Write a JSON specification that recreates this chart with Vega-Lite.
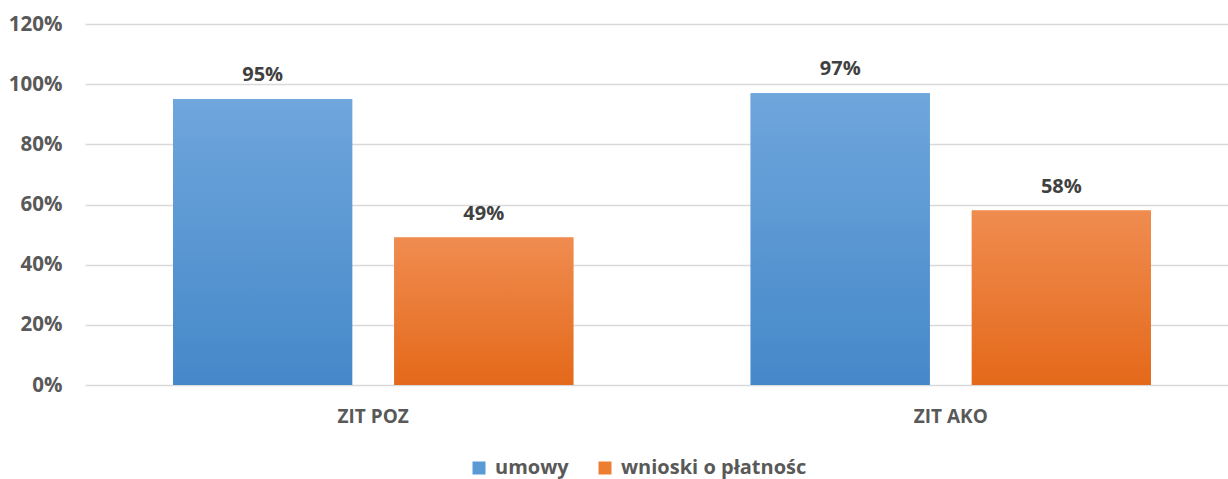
{
  "$schema": "https://vega.github.io/schema/vega-lite/v6.json",
  "autosize": {"type": "none"},
  "padding": {"left": 85, "top": 24, "right": 0, "bottom": 94},
  "width": 1154,
  "height": 361,
  "background": "white",
  "config": {
    "view": {"stroke": null},
    "font": "Open Sans"
  },
  "data": {
    "values": [
      {"grupa": "ZIT POZ", "seria": "umowy", "wartosc": 0.95},
      {"grupa": "ZIT POZ", "seria": "wnioski o płatnośc", "wartosc": 0.49},
      {"grupa": "ZIT AKO", "seria": "umowy", "wartosc": 0.97},
      {"grupa": "ZIT AKO", "seria": "wnioski o płatnośc", "wartosc": 0.58}
    ]
  },
  "encoding": {
    "x": {
      "field": "grupa",
      "type": "nominal",
      "sort": ["ZIT POZ", "ZIT AKO"],
      "scale": {"paddingInner": 0.307, "paddingOuter": 0.1525},
      "axis": {
        "title": null,
        "domain": false,
        "ticks": false,
        "labelAngle": 0,
        "labelFont": "Open Sans",
        "labelFontWeight": "bold",
        "labelFontSize": 19,
        "labelColor": "#595959",
        "labelPadding": 22
      }
    },
    "xOffset": {
      "field": "seria",
      "type": "nominal",
      "sort": ["umowy", "wnioski o płatnośc"],
      "scale": {"paddingInner": 0.19, "paddingOuter": 0}
    },
    "y": {
      "field": "wartosc",
      "type": "quantitative",
      "scale": {"domain": [0, 1.2], "nice": false},
      "axis": {
        "title": null,
        "format": ".0%",
        "values": [0, 0.2, 0.4, 0.6, 0.8, 1.0, 1.2],
        "domain": false,
        "ticks": false,
        "grid": true,
        "gridColor": "#d9d9d9",
        "gridWidth": 1.5,
        "labelFont": "Open Sans",
        "labelFontWeight": "bold",
        "labelFontSize": 20.5,
        "labelColor": "#595959",
        "labelPadding": 23
      }
    }
  },
  "layer": [
    {
      "mark": {"type": "bar"},
      "encoding": {
        "color": {
          "field": "seria",
          "type": "nominal",
          "sort": ["umowy", "wnioski o płatnośc"],
          "scale": {"domain": ["umowy", "wnioski o płatnośc"], "range": ["#5b9bd5", "#ed7d31"]},
          "legend": {
            "title": null,
            "orient": "none",
            "direction": "horizontal",
            "legendX": 384,
            "legendY": 434,
            "symbolType": "square",
            "symbolSize": 169,
            "symbolStrokeWidth": 0,
            "labelFont": "Open Sans",
            "labelFontWeight": "bold",
            "labelFontSize": 20,
            "labelColor": "#595959",
            "labelOffset": 6,
            "labelLimit": 500,
            "columnPadding": 26
          }
        }
      }
    },
    {
      "mark": {"type": "bar"},
      "encoding": {
        "fill": {
          "condition": {
            "test": "datum.seria === 'umowy'",
            "value": {
              "gradient": "linear",
              "x1": 0, "y1": 0, "x2": 0, "y2": 1,
              "stops": [
                {"offset": 0, "color": "#6fa6dc"},
                {"offset": 1, "color": "#4588c9"}
              ]
            }
          },
          "value": {
            "gradient": "linear",
            "x1": 0, "y1": 0, "x2": 0, "y2": 1,
            "stops": [
              {"offset": 0, "color": "#f08c50"},
              {"offset": 1, "color": "#e4691a"}
            ]
          }
        }
      }
    },
    {
      "mark": {
        "type": "text",
        "baseline": "bottom",
        "dy": -14,
        "font": "Open Sans",
        "fontWeight": "bold",
        "fontSize": 20,
        "color": "#404040"
      },
      "encoding": {
        "text": {"field": "wartosc", "type": "quantitative", "format": ".0%"}
      }
    }
  ]
}
